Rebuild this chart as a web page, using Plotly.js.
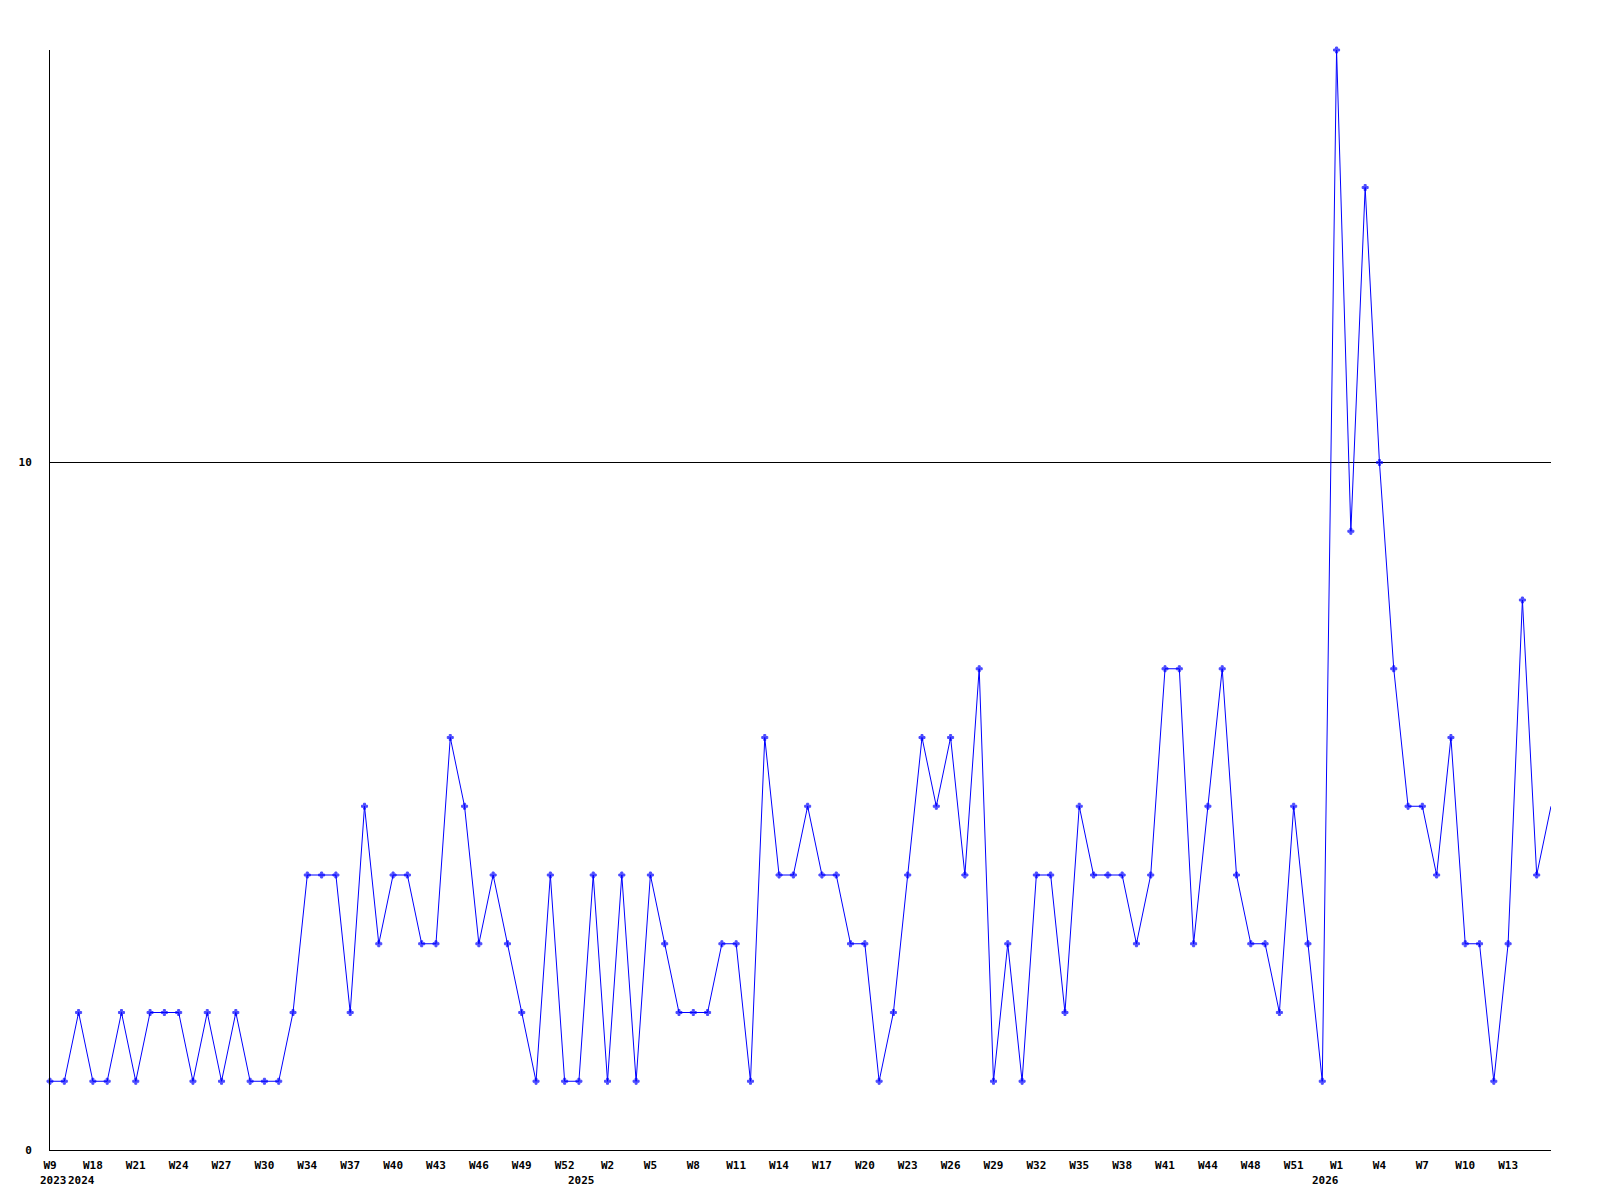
<!DOCTYPE html>
<html>
<head>
<meta charset="utf-8">
<script src="https://cdn.plot.ly/plotly-3.0.1.min.js"></script>
<style>
  html, body { margin: 0; padding: 0; background: #ffffff; }
  #chart { width: 1600px; height: 1200px; }
</style>
</head>
<body>
<div id="chart"></div>
<script>
// Weekly counts (one value per week, in order)
const values = [
  1, 1, 2, 1, 1, 2, 1, 2, 2, 2,
  1, 2, 1, 2, 1, 1, 1, 2, 4, 4,
  4, 2, 5, 3, 4, 4, 3, 3, 6, 5,
  3, 4, 3, 2, 1, 4, 1, 1, 4, 1,
  4, 1, 4, 3, 2, 2, 2, 3, 3, 1,
  6, 4, 4, 5, 4, 4, 3, 3, 1, 2,
  4, 6, 5, 6, 4, 7, 1, 3, 1, 4,
  4, 2, 5, 4, 4, 4, 3, 4, 7, 7,
  3, 5, 7, 4, 3, 3, 2, 5, 3, 1,
  16, 9, 14, 10, 7, 5, 5, 4, 6, 3,
  3, 1, 3, 8, 4, 5
];

// Week tick labels, shown every third week
const weekLabels = [
  "W9", "W18", "W21", "W24", "W27", "W30", "W34", "W37", "W40", "W43",
  "W46", "W49", "W52", "W2", "W5", "W8", "W11", "W14", "W17", "W20",
  "W23", "W26", "W29", "W32", "W35", "W38", "W41", "W44", "W48", "W51",
  "W1", "W4", "W7", "W10", "W13"
];
const weekLabelStep = 3;

// Year labels and the week index where each year starts
const yearLabels = ["2023", "2024", "2025", "2026"];
const yearStartIndex = [0, 2, 37, 89];

// Y axis ticks
const yTickValues = [0, 10];
const yTickLabels = ["0", "10"];

const xIdx = values.map((v, i) => i);
const tickPos = weekLabels.map((w, i) => i * weekLabelStep);
// the last (still running) week is drawn without a marker
const markerSizes = values.map((v, i) => (i === values.length - 1 ? 0 : 5));

const font = { family: "DejaVu Sans Mono, monospace", size: 11, color: "#000000", weight: "bold" };

const trace = {
  type: "scatter",
  mode: "lines+markers",
  x: xIdx,
  y: values,
  line: { color: "#0000ff", width: 1 },
  marker: { color: "#0000ff", symbol: "cross", size: markerSizes, line: { color: "#0000ff", width: 1 } },
  cliponaxis: false,
  hoverinfo: "x+y"
};

const annotations = yearLabels.map((t, i) => ({
  text: t,
  x: yearStartIndex[i],
  xref: "x",
  y: 0,
  yref: "paper",
  yanchor: "top",
  xanchor: "center",
  xshift: 3,
  yshift: -22,
  showarrow: false,
  font: font
}));

const layout = {
  width: 1600,
  height: 1200,
  margin: { l: 50, r: 49, t: 50, b: 50 },
  paper_bgcolor: "#ffffff",
  plot_bgcolor: "#ffffff",
  showlegend: false,
  xaxis: {
    range: [0, values.length - 1],
    tickmode: "array",
    tickvals: tickPos,
    ticktext: weekLabels,
    ticks: "",
    showgrid: false,
    zeroline: false,
    showline: true,
    linecolor: "#000000",
    linewidth: 1,
    tickfont: font,
    tickangle: 0,
    ticklabelstandoff: 5,
    layer: "above traces"
  },
  yaxis: {
    range: [0, 16],
    tickmode: "array",
    tickvals: yTickValues,
    ticktext: yTickLabels,
    ticks: "",
    showgrid: true,
    gridcolor: "#000000",
    gridwidth: 1,
    zeroline: false,
    showline: true,
    linecolor: "#000000",
    linewidth: 1,
    tickfont: font,
    ticklabelstandoff: 15,
    layer: "above traces"
  },
  annotations: annotations
};

Plotly.newPlot("chart", [trace], layout, { staticPlot: true, displayModeBar: false });
</script>
</body>
</html>
